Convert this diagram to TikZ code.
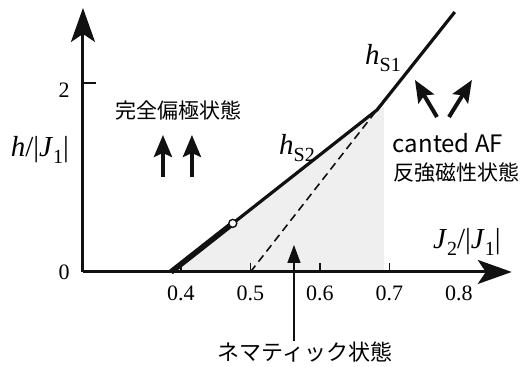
\documentclass[tikz,border=0pt]{standalone}
\usepackage{fontspec}
\setmainfont{Liberation Serif}
\newfontfamily\jpfont{Noto Sans CJK JP}
\usetikzlibrary{arrows.meta,positioning,calc}
\definecolor{phink}{HTML}{111111}
\definecolor{phshade}{HTML}{EFEFEF}
\newcommand{\lowsub}[1]{\raisebox{-0.5ex}{\fontsize{10}{10}\selectfont #1}}

\begin{document}
\begin{tikzpicture}[x=347.5pt,y=47.25pt,
  axis/.style={draw=phink,line width=1.5pt,-{Stealth[length=17pt,width=12pt,inset=4pt]}},
  bound/.style={draw=phink,line width=1.6pt,line join=round},
  tickmark/.style={draw=phink,line width=0.6pt},
  ticklab/.style={font=\rmfamily\fontsize{11}{13}\selectfont,inner sep=0pt},
  axlab/.style={font=\rmfamily\fontsize{14.5}{16}\selectfont,inner sep=0pt},
  jptext/.style={font=\jpfont\fontsize{10.5}{12}\selectfont,inner sep=0pt},
  spin/.style={draw=phink,line width=2pt,-{Stealth[length=11pt,width=9pt,inset=2pt]}},
  pointer/.style={draw=phink,line width=0.6pt,-{Triangle[length=9pt,width=6.5pt]}},
]
\useasboundingbox (0.1396,-1.005) rectangle (0.8936,2.878);

% phase boundary points
\coordinate (O) at (0.259,0);
\coordinate (ytip) at (0.259,2.794);
\coordinate (xtip) at (0.876,0);
\coordinate (start) at (0.3857,0);
\coordinate (kink) at (0.682,1.714);
\coordinate (top) at (0.794,2.751);
\coordinate (dstart) at (0.5,0);
\coordinate (crit) at ($(start)!0.3!(kink)$);

% nematic region
\fill[phshade] (start) -- (kink) -- (0.692,1.75) -- (0.692,0) -- cycle;

\foreach \v in {0.4,0.5,0.6,0.7}
  \draw[tickmark] (\v,0) -- ++(0,0.09);
\draw[tickmark] (0.259,2) -- ++(0.019,0);
\foreach \v/\n in {0.4/t4,0.5/t5,0.6/t6,0.7/t7,0.8/t8}
  \node[ticklab] (\n) at (\v,-0.222) {\v};
\node[ticklab] (h0) at (0.2317,0) {0};
\node[ticklab] (h2) at (0.2317,1.926) {2};

\draw[axis] (O) -- (ytip);
\draw[axis] (O) -- (xtip);
\node[axlab] (hlab) at (0.197,1.29) {\textit{h}/|\textit{J}\lowsub{1}|};
\node[axlab] (jlab) at (0.8115,0.317) {\textit{J}\lowsub{2}/|\textit{J}\lowsub{1}|};

\draw[draw=phink,line width=0.8pt,dash pattern=on 4pt off 2.5pt] (dstart) -- (kink);
\draw[bound] (start) -- (kink) -- (top);
\draw[draw=phink,line width=2.8pt] (start) -- (crit);
\node[circle,draw=phink,fill=white,line width=0.7pt,inner sep=0pt,
      minimum size=4pt] (critpt) at (crit) {};

\node[axlab] (hs1) at (0.6907,2.265) {\textit{h}\lowsub{S1}};
\node[axlab] (hs2) at (0.567,1.312) {\textit{h}\lowsub{S2}};

% fully polarised
\node[jptext] (ferro) at (0.397,1.714) {完全偏極状態};
\draw[spin] (0.3741,1.005) -- (0.3741,1.45);
\draw[spin] (0.4158,1.005) -- (0.4158,1.45);

% canted
\draw[spin] (0.7684,1.64) -- (0.7367,2.032);
\draw[spin] (0.7857,1.64) -- (0.8187,2.032);
\node[font=\jpfont\fontsize{12}{14}\selectfont,inner sep=0pt] (canted)
  at (0.7842,1.365) {canted AF};
\node[jptext] (afm) at (0.797,1.048) {反強磁性状態};

% nematic
\node[jptext,font=\jpfont\fontsize{11}{13}\selectfont] (nem)
  at (0.5784,-0.847) {ネマティック状態};
\coordinate (nemtip) at (0.5626,0.286);
\draw[pointer] (nem.north -| nemtip) -- (nemtip);
\end{tikzpicture}
\end{document}
